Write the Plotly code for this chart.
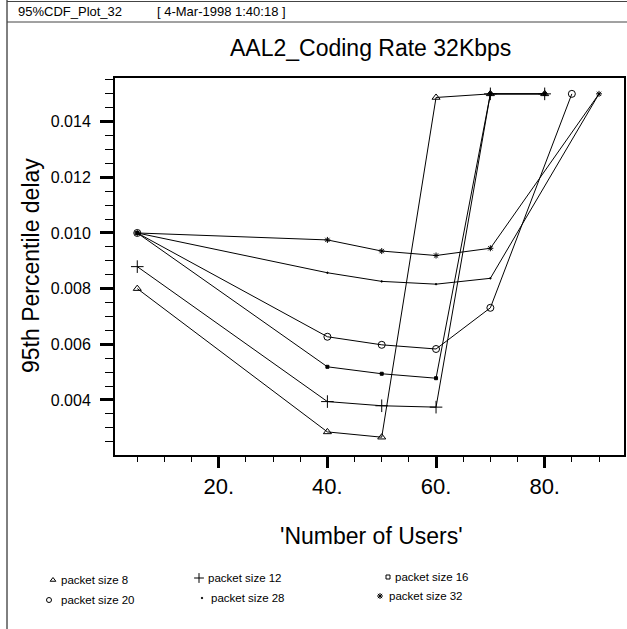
import plotly.graph_objects as go

# ---- data ----
x_ps8 = [5, 40, 50, 60, 70, 80]
y_ps8 = [0.0080, 0.00285, 0.00266, 0.01487, 0.0150, 0.0150]
x_ps12 = [5, 40, 50, 60, 70, 80]
y_ps12 = [0.00879, 0.00394, 0.00379, 0.00374, 0.0150, 0.0150]
x_ps16 = [5, 40, 50, 60, 70, 80]
y_ps16 = [0.0100, 0.00519, 0.00494, 0.00478, 0.0150, 0.0150]
x_ps20 = [5, 40, 50, 60, 70, 85]
y_ps20 = [0.0100, 0.00627, 0.00598, 0.00583, 0.00731, 0.0150]
x_ps28 = [5, 40, 50, 60, 70, 90]
y_ps28 = [0.0100, 0.00857, 0.00826, 0.00816, 0.00837, 0.0150]
x_ps32 = [5, 40, 50, 60, 70, 90]
y_ps32 = [0.0100, 0.00975, 0.00935, 0.00919, 0.00945, 0.0150]

series_names = ["packet size 8", "packet size 12", "packet size 16",
                "packet size 20", "packet size 28", "packet size 32"]
x_ticks = [20, 40, 60, 80]
x_ticktext = ["20.", "40.", "60.", "80."]
y_ticks = [0.004, 0.006, 0.008, 0.010, 0.012, 0.014]
y_ticktext = ["0.004", "0.006", "0.008", "0.010", "0.012", "0.014"]

title_text = "AAL2_Coding Rate 32Kbps"
x_title = "'Number of Users'"
y_title = "95th Percentile delay"
header_left = "95%CDF_Plot_32"
header_right = "[ 4-Mar-1998 1:40:18 ]"

W, H = 627, 629
FONT = "Liberation Sans, Arial, sans-serif"

def px(x):
    return x / W

def py(y):
    return 1 - y / H

styles = [
    dict(symbol="triangle-up-open", size=7),
    dict(symbol="cross-thin-open", size=9),
    dict(symbol="square", size=3),
    dict(symbol="circle-open", size=7),
    dict(symbol="circle", size=1.5),
    dict(symbol="asterisk-open", size=5),
]
leg_styles = [
    dict(symbol="triangle-up-open", size=5),
    dict(symbol="cross-thin-open", size=7),
    dict(symbol="square-open", size=4),
    dict(symbol="circle-open", size=5),
    dict(symbol="circle", size=1.5),
    dict(symbol="asterisk-open", size=5),
]
xs = [x_ps8, x_ps12, x_ps16, x_ps20, x_ps28, x_ps32]
ys = [y_ps8, y_ps12, y_ps16, y_ps20, y_ps28, y_ps32]

fig = go.Figure()
for name, xv, yv, st in zip(series_names, xs, ys, styles):
    fig.add_trace(go.Scatter(
        x=xv, y=yv, mode="lines+markers", name=name, showlegend=False,
        line=dict(color="black", width=1),
        marker=dict(symbol=st["symbol"], size=st["size"], color="black",
                    line=dict(color="black", width=1)),
        cliponaxis=False,
    ))

# legend markers on an overlay pixel axis
leg_pos = [(53, 580), (199, 578), (388, 577), (49, 600), (202, 598), (380, 596)]
leg_text_x = [59, 206, 393, 59, 209, 387]
for (mx, my), st in zip(leg_pos, leg_styles):
    fig.add_trace(go.Scatter(
        x=[mx], y=[my], xaxis="x2", yaxis="y2", mode="markers", showlegend=False,
        marker=dict(symbol=st["symbol"], size=st["size"], color="black",
                    line=dict(color="black", width=1)),
        cliponaxis=False,
    ))

annotations = []
for (mx, my), tx, name in zip(leg_pos, leg_text_x, series_names):
    annotations.append(dict(x=px(tx), y=py(my), xref="paper", yref="paper",
                            text=name, showarrow=False, xanchor="left", yanchor="middle",
                            font=dict(family=FONT, size=11.5, color="black")))

annotations += [
    dict(x=px(370), y=py(48), xref="paper", yref="paper", text=title_text,
         showarrow=False, xanchor="center", yanchor="middle",
         font=dict(family=FONT, size=23, color="black")),
    dict(x=px(371), y=py(536), xref="paper", yref="paper", text=x_title,
         showarrow=False, xanchor="center", yanchor="middle",
         font=dict(family=FONT, size=23, color="black")),
    dict(x=px(31), y=py(266), xref="paper", yref="paper", text=y_title,
         showarrow=False, xanchor="center", yanchor="middle", textangle=-90,
         font=dict(family=FONT, size=23, color="black")),
    dict(x=px(16), y=py(11), xref="paper", yref="paper", text=header_left,
         showarrow=False, xanchor="left", yanchor="middle",
         font=dict(family=FONT, size=13, color="black")),
    dict(x=px(155), y=py(11), xref="paper", yref="paper", text=header_right,
         showarrow=False, xanchor="left", yanchor="middle",
         font=dict(family=FONT, size=13, color="black")),
]

shapes = [
    dict(type="line", xref="paper", yref="paper", x0=px(7), x1=px(7), y0=0, y1=1,
         line=dict(color="black", width=1)),
    dict(type="line", xref="paper", yref="paper", x0=px(7), x1=1, y0=py(1.5), y1=py(1.5),
         line=dict(color="#444", width=1)),
    dict(type="line", xref="paper", yref="paper", x0=px(7), x1=1, y0=py(22), y1=py(22),
         line=dict(color="#444", width=1)),
]

fig.update_layout(
    width=W, height=H,
    margin=dict(l=0, r=0, t=0, b=0, pad=0),
    paper_bgcolor="white", plot_bgcolor="rgba(0,0,0,0)",
    font=dict(family=FONT, color="black"),
    annotations=annotations, shapes=shapes,
    xaxis=dict(
        domain=[px(115), px(624)], range=[0.9, 94.6],
        tickmode="array", tickvals=x_ticks, ticktext=x_ticktext,
        ticks="outside", ticklen=11, tickwidth=3, tickcolor="black",
        tickfont=dict(family=FONT, size=22, color="black"),
        showline=True, linecolor="black", linewidth=2, mirror=True,
        showgrid=False, zeroline=False,
        minor=dict(tickmode="linear", tick0=0, dtick=5, ticks="outside",
                   ticklen=5, tickwidth=1, tickcolor="black", showgrid=False),
        anchor="y",
    ),
    yaxis=dict(
        domain=[py(455), py(78)], range=[0.00202, 0.01557],
        tickmode="array", tickvals=y_ticks, ticktext=y_ticktext,
        ticks="outside", ticklen=13, tickwidth=3, tickcolor="black",
        tickfont=dict(family=FONT, size=16, color="black"),
        ticklabelstandoff=6,
        showline=True, linecolor="black", linewidth=2, mirror=True,
        showgrid=False, zeroline=False,
        minor=dict(tickmode="linear", tick0=0, dtick=0.0005, ticks="outside",
                   ticklen=8, tickwidth=1, tickcolor="black", showgrid=False),
        anchor="x",
    ),
    xaxis2=dict(domain=[0, 1], range=[0, W], visible=False, anchor="y2"),
    yaxis2=dict(domain=[0, 1], range=[H, 0], visible=False, anchor="x2"),
)

fig.write_html("out.html")
